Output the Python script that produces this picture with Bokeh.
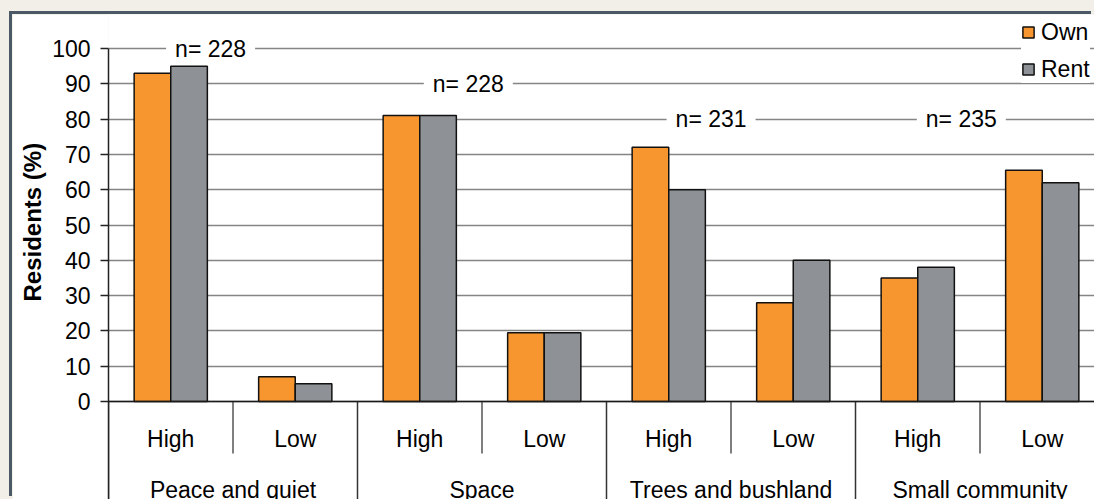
from bokeh.plotting import figure
from bokeh.models import (ColumnDataSource, Range1d, FixedTicker, Span, Label,
                          Legend, LegendItem, Title, GlobalInlineStyleSheet)
from bokeh.core.properties import value
from bokeh.embed import file_html
from bokeh.resources import INLINE

# ---------------- data ----------------
groups = ["Peace and quiet", "Space", "Trees and bushland", "Small community"]
levels = ["High", "Low"]
own = [93, 7, 81, 19.5, 72, 28, 35, 65.5]
rent = [95, 5, 81, 19.5, 60, 40, 38, 62]
n_values = [228, 228, 231, 235]
y_ticks = [0, 10, 20, 30, 40, 50, 60, 70, 80, 90, 100]

# ---------------- style / layout ----------------
FONT = "Liberation Sans"
FS = "23px"
OWN_COLOR = "#F7962F"
RENT_COLOR = "#8E9195"
PAGE_BG = "#F2EEE8"
PANEL_EDGE = "#4B5966"

OFF_X, OFF_Y = 12, 14         # white panel offset on the page
W, H = 1094 - OFF_X, 499 - OFF_Y
LEFT = 108 - OFF_X            # frame left (figure px)
SLOT_PX = 124.5               # width of one category slot
PX_PER_UNIT = 3.53            # px per percent
ZERO_Y = 401 - OFF_Y          # y=0 in figure px from top

x_end = (W - LEFT) / SLOT_PX
y_top = ZERO_Y / PX_PER_UNIT
y_bot = -(H - ZERO_Y) / PX_PER_UNIT

n_slots = len(groups) * len(levels)
slot_centers = [i + 0.5 for i in range(n_slots)]
bar_w = 0.294
dodge = 0.147

p = figure(width=W, height=H, title=None,
           x_range=Range1d(0, x_end), y_range=Range1d(y_bot, y_top),
           x_axis_type=None, output_backend="svg", toolbar_location=None,
           min_border_left=LEFT, min_border_right=0, min_border_top=0,
           min_border_bottom=0)
p.margin = (OFF_Y, 0, 0, OFF_X)
p.styles = {"box-shadow": f"-3px -3px 0 0 {PANEL_EDGE}"}
p.stylesheets = [GlobalInlineStyleSheet(
    css=f"html, body {{ background-color: {PAGE_BG}; }}")]
p.outline_line_color = None
p.background_fill_color = "white"
p.border_fill_color = "white"

# y axis
yax = p.yaxis[0]
yax.ticker = FixedTicker(ticks=y_ticks, minor_ticks=[])
yax.bounds = (y_bot, 100)
yax.major_tick_out = 8
yax.major_tick_in = 0
yax.minor_tick_out = 0
yax.minor_tick_in = 0
yax.axis_line_color = "#222222"
yax.axis_line_width = 1.5
yax.major_tick_line_color = "#222222"
yax.major_tick_line_width = 1.5
yax.major_label_text_font = FONT
yax.major_label_text_font_size = FS
yax.major_label_text_color = "black"
yax.major_label_standoff = 10

p.ygrid.grid_line_color = "#858585"
p.ygrid.grid_line_width = 1.5

# y axis title (left-side title so it can be positioned along the axis)
p.add_layout(Title(text="Residents (%)", align="left", offset=198,
                   vertical_align="middle", text_font=FONT,
                   text_font_size="24px", text_font_style="bold",
                   text_color="black", standoff=6), "left")

# bars
src = ColumnDataSource(dict(
    x_own=[c - dodge for c in slot_centers],
    x_rent=[c + dodge for c in slot_centers],
    own=own, rent=rent))
r_own = p.vbar(x="x_own", top="own", bottom=0, width=bar_w, source=src,
               fill_color=OWN_COLOR, line_color="#111111", line_width=1.5)
r_rent = p.vbar(x="x_rent", top="rent", bottom=0, width=bar_w, source=src,
                fill_color=RENT_COLOR, line_color="#111111", line_width=1.5)

# x axis line at 0
p.add_layout(Span(location=0, dimension="width", line_color="#1a1a1a",
                  line_width=1.5))

# category separators
inner_b = [2 * g + 1 for g in range(len(groups))]
group_b = [2 * g for g in range(len(groups) + 1)]
p.segment(x0=inner_b, x1=inner_b, y0=[0] * len(inner_b),
          y1=[-52 / PX_PER_UNIT] * len(inner_b),
          line_color="#555555", line_width=1.5)
p.segment(x0=group_b, x1=group_b, y0=[0] * len(group_b),
          y1=[y_bot] * len(group_b), line_color="#333333", line_width=1.5)

# category labels (two levels)
lvl_src = ColumnDataSource(dict(
    x=slot_centers, y=[-37 / PX_PER_UNIT] * n_slots,
    t=[levels[i % 2] for i in range(n_slots)]))
p.text(x="x", y="y", text="t", source=lvl_src, text_font=value(FONT),
       text_font_size=FS, text_align="center", text_baseline="middle",
       text_color="black")
grp_src = ColumnDataSource(dict(
    x=[2 * g + 1 for g in range(len(groups))],
    y=[-88 / PX_PER_UNIT] * len(groups), t=groups))
p.text(x="x", y="y", text="t", source=grp_src, text_font=value(FONT),
       text_font_size=FS, text_align="center", text_baseline="middle",
       text_color="black")

# n= labels
n_label_x = [0.82, 2.89, 4.84, 6.85]
n_label_y = [100, 90, 80, 80]
for nx, ny, n in zip(n_label_x, n_label_y, n_values):
    p.add_layout(Label(x=nx, y=ny, text=f"n= {n}", text_font=FONT,
                       text_font_size=FS, text_align="center",
                       text_baseline="middle", text_color="black",
                       background_fill_color="white", padding=(9, 1)))

# legend
legend = Legend(items=[LegendItem(label="Own", renderers=[r_own]),
                       LegendItem(label="Rent", renderers=[r_rent])],
                location=(913, 416.5), orientation="vertical",
                background_fill_color="white", background_fill_alpha=1.0,
                border_line_color=None, padding=8, spacing=10, margin=0,
                glyph_width=14, glyph_height=14, label_standoff=6,
                label_text_font=FONT, label_text_font_size=FS,
                label_text_color="black")
p.add_layout(legend)

open("out.html", "w").write(file_html(p, INLINE))
